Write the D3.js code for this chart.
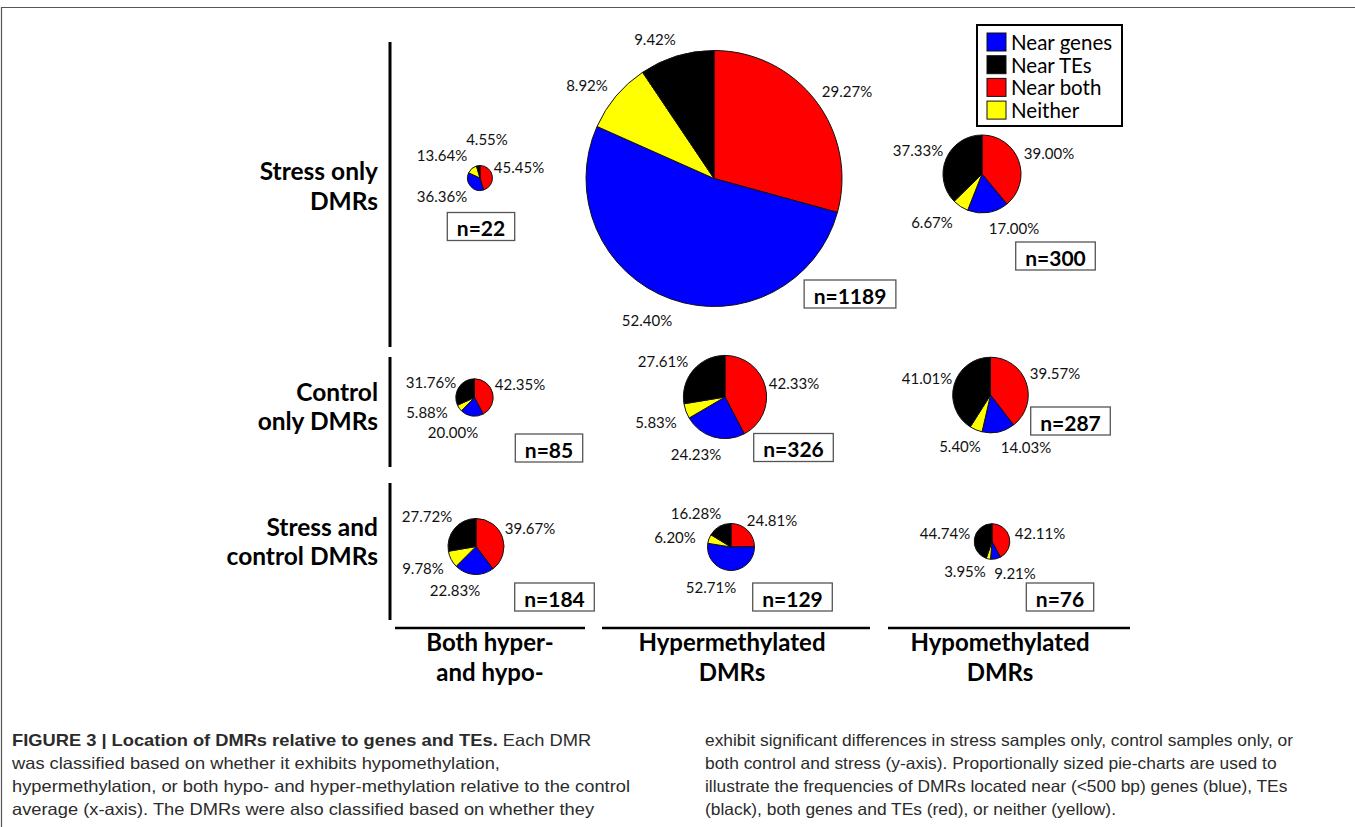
<!DOCTYPE html>
<html>
<head>
<meta charset="utf-8">
<script src="https://cdn.jsdelivr.net/npm/d3@7/dist/d3.min.js"></script>
<style>
  html, body { margin: 0; padding: 0; background: #fff; }
  svg { display: block; }
</style>
</head>
<body>
<svg id="fig" width="1355" height="827"></svg>
<script>
// ---- data -------------------------------------------------------------
const columns = [["Both hyper-", "and hypo-"], ["Hypermethylated", "DMRs"], ["Hypomethylated", "DMRs"]];
const rows = [["Stress only", "DMRs"], ["Control", "only DMRs"], ["Stress and", "control DMRs"]];

// slice order, clockwise from 12 o'clock
const locations = ["Near both", "Near genes", "Neither", "Near TEs"];
const legendOrder = ["Near genes", "Near TEs", "Near both", "Neither"];

// DMR counts per [row][column]
const counts = [[22, 1189, 300], [85, 326, 287], [184, 129, 76]];

// percentages per [row][column]
const nearBoth  = [[45.45, 29.27, 39.00], [42.35, 42.33, 39.57], [39.67, 24.81, 42.11]];
const nearGenes = [[36.36, 52.40, 17.00], [20.00, 24.23, 14.03], [22.83, 52.71, 9.21]];
const neither   = [[13.64, 8.92, 6.67],   [5.88, 5.83, 5.40],    [9.78, 6.20, 3.95]];
const nearTEs   = [[4.55, 9.42, 37.33],   [31.76, 27.61, 41.01], [27.72, 16.28, 44.74]];

const seriesByLocation = { "Near both": nearBoth, "Near genes": nearGenes, "Neither": neither, "Near TEs": nearTEs };

// ---- layout -----------------------------------------------------------
const svg = d3.select("#fig");
const FONT = "Lato, 'Open Sans', sans-serif";

const color = d3.scaleOrdinal()
  .domain(["Near genes", "Near TEs", "Near both", "Neither"])
  .range(["#0000ff", "#000000", "#ff0000", "#ffff00"]);

const colX = d3.scaleOrdinal().domain([0, 1, 2]).range([477, 723, 988]);
const rowY = d3.scaleOrdinal().domain([0, 1, 2]).range([177, 397, 545]);

// small per-cell shifts of each pie inside its grid cell
const cellShift = [[[3, 1], [-9, 1.5], [-6, -3]],
                   [[-2.5, 0.5], [2, 0], [2.5, -2]],
                   [[-1, 1.5], [8, 2], [4, -3.5]]];

// pie radius grows with the number of DMRs
const radius = d3.scaleLinear()
  .domain([0, 22, 85, 129, 184, 300, 1189])
  .range([0, 12.5, 18.7, 23.5, 28, 39, 128]);

// percentage label centres relative to the pie centre,
// in slice order [Near both, Near genes, Neither, Near TEs]
const labelOffset = [
  [[[39, -11], [-38, 18], [-38, -23], [7, -39]],
   [[133, -87.5], [-67, 141.5], [-127, -93.5], [-59, -139.5]],
   [[67, -21], [32, 54], [-50, 48], [-64, -24]]],
  [[[45.5, -13.5], [-21.5, 34.5], [-47.5, 14.5], [-43.5, -15.5]],
   [[69, -14], [-29, 57], [-69, 25], [-62, -36]],
   [[64.5, -22], [35.5, 52], [-30.5, 51], [-63.5, -17]]],
  [[[54, -18.5], [-21, 43.5], [-53, 21.5], [-49, -30.5]],
   [[41, -27], [-20, 40], [-56, -10], [-35, -34]],
   [[48, -8.5], [23, 31.5], [-27, 29.5], [-47, -8.5]]]
];

// centre of the "n=" box relative to the pie centre
const boxOffset = [[[1, 48.5], [136, 115.5], [73.5, 82]],
                   [[74.5, 50.5], [68.5, 50.5], [80, 26]],
                   [[78.5, 50.5], [61.5, 50], [68, 55.5]]];

// frame
svg.append("path")
  .attr("d", "M1.5,827 V7.5 H1355")
  .attr("fill", "none").attr("stroke", "#555").attr("stroke-width", 1.2);

// row axis segments and column axis segments
const rowSpans = [[42, 347], [357, 467], [483, 620]];
const colSpans = [[395, 585], [602, 870], [888, 1130]];
svg.selectAll("line.rowaxis").data(rowSpans).join("line")
  .attr("class", "rowaxis")
  .attr("x1", 390).attr("x2", 390)
  .attr("y1", d => d[0]).attr("y2", d => d[1])
  .attr("stroke", "#000").attr("stroke-width", 3);
svg.selectAll("line.colaxis").data(colSpans).join("line")
  .attr("class", "colaxis")
  .attr("y1", 628).attr("y2", 628)
  .attr("x1", d => d[0]).attr("x2", d => d[1])
  .attr("stroke", "#000").attr("stroke-width", 2.5);

// row titles
const rowTitleY = [[180, 210], [401, 430], [536, 565]];
rows.forEach((lines, i) => {
  const t = svg.append("text")
    .attr("text-anchor", "end")
    .attr("font-family", FONT).attr("font-weight", 700).attr("font-size", 24.5)
    .attr("fill", "#000");
  lines.forEach((s, j) => t.append("tspan").attr("x", 378).attr("y", rowTitleY[i][j]).text(s));
});

// column titles
const colTitleX = [490, 732, 1000];
columns.forEach((lines, i) => {
  const t = svg.append("text")
    .attr("text-anchor", "middle")
    .attr("font-family", FONT).attr("font-weight", 700).attr("font-size", 24)
    .attr("fill", "#000");
  lines.forEach((s, j) => t.append("tspan").attr("x", colTitleX[i]).attr("y", 651 + j * 30).text(s));
});

// ---- pies -------------------------------------------------------------
const pie = d3.pie().sort(null).value(d => d.value);
const fmt = d3.format(".2f");

counts.forEach((rowCounts, ri) => {
  rowCounts.forEach((n, ci) => {
    const [sx, sy] = cellShift[ri][ci];
    const cx = colX(ci) + sx, cy = rowY(ri) + sy, r = radius(n);
    const slices = locations.map(loc => ({ key: loc, value: seriesByLocation[loc][ri][ci] }));
    const arcs = pie(slices);
    const arc = d3.arc().innerRadius(0).outerRadius(r);
    const g = svg.append("g").attr("transform", `translate(${cx},${cy})`);
    g.selectAll("path").data(arcs).join("path")
      .attr("d", arc)
      .attr("fill", d => color(d.data.key))
      .attr("stroke", "#111").attr("stroke-width", 1).attr("stroke-linejoin", "round");

    // percentage labels around the pie
    g.selectAll("text").data(arcs).join("text")
      .attr("x", (d, i) => labelOffset[ri][ci][i][0])
      .attr("y", (d, i) => labelOffset[ri][ci][i][1])
      .attr("font-family", FONT).attr("font-size", 15).attr("fill", "#111")
      .attr("text-anchor", "middle").attr("dominant-baseline", "central")
      .text(d => fmt(d.data.value) + "%");

    // sample size box
    const [bx, by] = boxOffset[ri][ci];
    const bg = svg.append("g").attr("transform", `translate(${cx + bx},${cy + by})`);
    const rect = bg.append("rect");
    const bt = bg.append("text")
      .attr("font-family", FONT).attr("font-weight", 700).attr("font-size", 21)
      .attr("text-anchor", "middle").attr("dominant-baseline", "central").attr("y", 1)
      .attr("fill", "#000").text("n=" + n);
    const bw = bt.node().getComputedTextLength() + 19;
    rect.attr("x", -bw / 2).attr("y", -14).attr("width", bw).attr("height", 28)
      .attr("fill", "#fff").attr("stroke", "#555").attr("stroke-width", 1.3);
  });
});

// ---- legend -----------------------------------------------------------
const legend = svg.append("g").attr("transform", "translate(977,25)");
legend.append("rect").attr("width", 145).attr("height", 101)
  .attr("fill", "#fff").attr("stroke", "#000").attr("stroke-width", 2);
const item = legend.selectAll("g.item").data(legendOrder).join("g")
  .attr("class", "item")
  .attr("transform", (d, i) => `translate(10,${17 + i * 22.7})`);
item.append("rect").attr("y", -9).attr("width", 19).attr("height", 18)
  .attr("fill", d => color(d)).attr("stroke", "#111").attr("stroke-width", 1);
item.append("text").attr("x", 24).attr("y", 0).attr("dominant-baseline", "central")
  .attr("font-family", FONT).attr("font-size", 20.5).attr("fill", "#000").text(d => d);

// ---- caption ----------------------------------------------------------
const CAP = "'Liberation Sans', Arial, sans-serif";
const captionLeft = [
  [["FIGURE 3 | Location of DMRs relative to genes and TEs.", true], [" Each DMR", false]],
  [["was classified based on whether it exhibits hypomethylation,", false]],
  [["hypermethylation, or both hypo- and hyper-methylation relative to the control", false]],
  [["average (x-axis). The DMRs were also classified based on whether they", false]]
];
const captionRight = [
  [["exhibit significant differences in stress samples only, control samples only, or", false]],
  [["both control and stress (y-axis). Proportionally sized pie-charts are used to", false]],
  [["illustrate the frequencies of DMRs located near (<500 bp) genes (blue), TEs", false]],
  [["(black), both genes and TEs (red), or neither (yellow).", false]]
];
function captionLines(lines, x) {
  return lines.map((parts, i) => {
    const t = svg.append("text")
      .attr("x", x).attr("y", 746 + i * 23)
      .attr("font-family", CAP).attr("font-size", 16.5).attr("fill", "#2b2b2b");
    parts.forEach(([s, b]) => t.append("tspan").attr("font-weight", b ? 700 : 400).text(s));
    return t;
  });
}
// the caption face is narrower than the fallback font: compress each column uniformly
function squeezeColumn(texts, refIndex, refWidth) {
  const k = refWidth / texts[refIndex].node().getComputedTextLength();
  texts.forEach(t => {
    t.attr("textLength", t.node().getComputedTextLength() * k)
     .attr("lengthAdjust", "spacingAndGlyphs");
  });
}
squeezeColumn(captionLines(captionLeft, 12), 2, 618);
squeezeColumn(captionLines(captionRight, 705), 0, 588);
</script>
</body>
</html>
